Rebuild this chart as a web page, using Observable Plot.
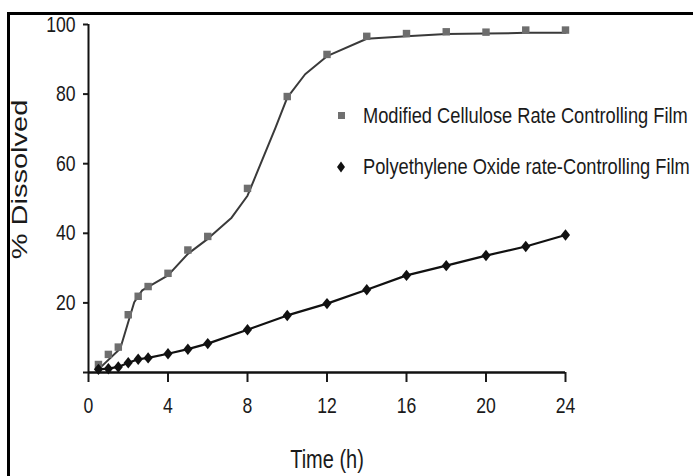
<!DOCTYPE html>
<html>
<head>
<meta charset="utf-8">
<script src="https://cdn.jsdelivr.net/npm/d3@7"></script>
<script src="https://cdn.jsdelivr.net/npm/@observablehq/plot@0.6"></script>
<style>
  html, body { margin: 0; padding: 0; background: #fff; overflow: hidden; width: 693px; height: 476px; }
  #wrap { position: relative; width: 693px; height: 476px; overflow: hidden; }
  #frame { position: absolute; left: 7px; top: 12px; width: 800px; height: 600px;
           border-top: 3px solid #000; border-left: 3px solid #000; }
  #chart { position: absolute; left: 0; top: 0; }
  .legend { position: absolute; left: 0; top: 0; width: 693px;
            font-family: "Liberation Sans", Arial, sans-serif;
            font-size: 22px; color: #1a1a1a; }
  .row { position: absolute; left: 363px; height: 26px; line-height: 26px; white-space: nowrap;
         transform: scaleX(0.83); transform-origin: 0 50%; }
  .sq { position: absolute; width: 7px; height: 7px; background: #707070; }
</style>
</head>
<body>
<div id="wrap">
  <div id="frame"></div>
  <div id="chart"></div>
  <div class="legend" id="legend"></div>
</div>
<script>
// ---- data ----
const time = [0.5, 1, 1.5, 2, 2.5, 3, 4, 5, 6, 8, 10, 12, 14, 16, 18, 20, 22, 24];
const cellulose = [2.3, 5.2, 7.3, 16.6, 21.9, 24.7, 28.5, 35.2, 39.1, 52.9, 79.3, 91.4, 96.6, 97.4, 97.9, 97.8, 98.4, 98.4];
const peo = [0.9, 1.1, 1.6, 2.8, 3.8, 4.2, 5.4, 6.7, 8.3, 12.3, 16.4, 19.8, 23.8, 27.9, 30.7, 33.6, 36.2, 39.5];
const fitTime = [0.5, 1.6, 2.3, 2.7, 4, 5, 6, 7.2, 8, 9.4, 10, 10.9, 12, 14, 16, 18, 20, 22, 24];
const fitCellulose = [0.9, 6.9, 20.2, 23.6, 27.9, 34.1, 38.4, 44.5, 50.8, 70.2, 79.0, 85.7, 90.9, 95.9, 96.6, 97.3, 97.4, 97.6, 97.6];
const xTicks = [0, 4, 8, 12, 16, 20, 24];
const yTicks = [0, 20, 40, 60, 80, 100];
const seriesNames = ["Modified Cellulose Rate Controlling Film", "Polyethylene Oxide rate-Controlling Film"];
const xTitle = "Time (h)";
const yTitle = "% Dissolved";

// ---- tables built from the arrays ----
const cellData = time.map((t, i) => ({t, v: cellulose[i]}));
const peoData = time.map((t, i) => ({t, v: peo[i]}));
const fitData = fitTime.map((t, i) => ({t, v: fitCellulose[i]}));

const tallDiamond = {
  draw(ctx, size) {
    const s = Math.sqrt(size), w = s * 0.56, h = s * 0.7;
    ctx.moveTo(0, -h); ctx.lineTo(w, 0); ctx.lineTo(0, h); ctx.lineTo(-w, 0); ctx.closePath();
  }
};

const font = '"Liberation Sans", Arial, sans-serif';

const chart = Plot.plot({
  width: 693,
  height: 476,
  marginLeft: 88,
  marginRight: 128,
  marginTop: 24,
  marginBottom: 104,
  x: {domain: [0, 24]},
  y: {domain: [0, 100]},
  style: {fontFamily: font, fontSize: "22px", color: "#1a1a1a", background: "transparent", overflow: "visible"},
  marks: [
    Plot.axisX({ticks: xTicks, tickSize: 10, tickPadding: 15, label: null, strokeWidth: 2, tickFormat: d => String(d)}),
    Plot.axisY({ticks: yTicks, tickSize: 5, tickPadding: 8, label: null, strokeWidth: 2, tickFormat: d => d === 0 ? "" : String(d)}),
    Plot.ruleX([0], {stroke: "#111", strokeWidth: 2}),
    Plot.ruleY([0], {stroke: "#111", strokeWidth: 2.5}),
    Plot.line(fitData, {x: "t", y: "v", curve: "linear", stroke: "#3a3a3a", strokeWidth: 2, strokeLinejoin: "round"}),
    Plot.line(peoData, {x: "t", y: "v", stroke: "#111", strokeWidth: 2.2}),
    Plot.dot(cellData, {x: "t", y: "v", symbol: "square", r: 4.2, fill: "#6e6e6e"}),
    Plot.dot(peoData, {x: "t", y: "v", symbol: tallDiamond, r: 4.6, fill: "#111"}),
    Plot.text([xTitle], {text: d => d, frameAnchor: "bottom", textAnchor: "middle", lineAnchor: "middle", dy: 87, fontSize: 25}),
    Plot.text([yTitle], {text: d => d, frameAnchor: "left", textAnchor: "middle", lineAnchor: "middle", dx: -69, dy: -19, rotate: -90, fontSize: 29})
  ]
});
document.getElementById("chart").appendChild(chart);

// narrow the glyphs to match the condensed look of the source
chart.querySelectorAll("text").forEach(t => {
  const tr = t.getAttribute("transform") || "";
  if (t.textContent === yTitle) {
    t.setAttribute("transform", tr + " scale(1,0.78)");
  } else {
    t.setAttribute("transform", tr + " scale(0.8,1)");
  }
});

// ---- legend ----
const legend = document.getElementById("legend");
const rowTops = [103, 154];
seriesNames.forEach((name, i) => {
  const row = document.createElement("div");
  row.className = "row";
  row.style.top = rowTops[i] + "px";
  row.textContent = name;
  legend.appendChild(row);
  if (i === 0) {
    const m = document.createElement("div");
    m.className = "sq";
    m.style.left = "338px"; m.style.top = (rowTops[i] + 9) + "px";
    legend.appendChild(m);
  } else {
    const ns = "http://www.w3.org/2000/svg";
    const svg = document.createElementNS(ns, "svg");
    svg.setAttribute("width", 12); svg.setAttribute("height", 14);
    svg.style.position = "absolute"; svg.style.left = "335px"; svg.style.top = (rowTops[i] + 6) + "px";
    const p = document.createElementNS(ns, "path");
    p.setAttribute("d", "M6,1.5L10,7L6,12.5L2,7Z");
    p.setAttribute("fill", "#111");
    svg.appendChild(p);
    legend.appendChild(svg);
  }
});
</script>
</body>
</html>
